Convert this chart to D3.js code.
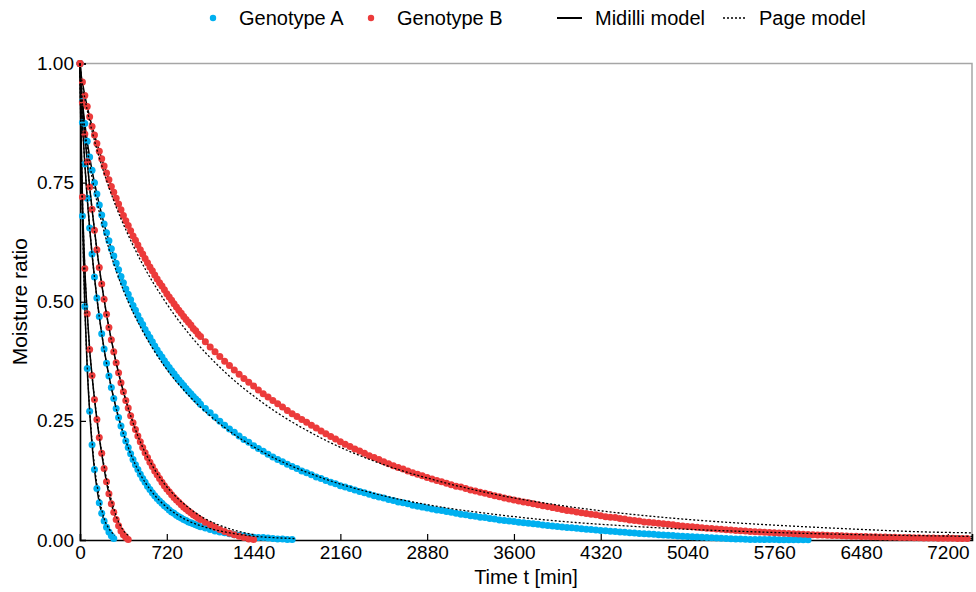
<!DOCTYPE html>
<html>
<head>
<meta charset="utf-8">
<script src="https://cdn.jsdelivr.net/npm/d3@7"></script>
<style>
  body { margin: 0; background: #fff; }
  text { font-family: "Liberation Sans", Arial, sans-serif; fill: #000; }
</style>
</head>
<body>
<svg id="root" width="976" height="592"></svg>
<script>
// time [min], moisture ratio
const fastA = [[0,1],[20,.68],[40,.49],[60,.36],[80,.27],[100,.2],[120,.148],[140,.108],[160,.078],[180,.056],[200,.04],[220,.027],[240,.017],[260,.009],[280,.003]];
const fastB = [[0,1],[20,.72],[40,.57],[60,.475],[80,.40],[100,.345],[120,.295],[140,.253],[160,.215],[180,.182],[200,.15],[220,.122],[240,.097],[260,.076],[280,.058],[300,.043],[320,.03],[340,.019],[360,.011],[380,.005],[400,.001]];

const midA = [[0,1],[20,.876],[40,.789],[60,.717],[80,.655],[100,.6],[120,.552],[140,.508],[160,.469],[180,.433],[200,.401],[220,.371],[240,.344],[260,.32],[280,.297],[300,.276],[320,.257],[340,.239],[360,.223],[380,.208],[400,.194],[420,.181],[440,.169],[460,.158],[480,.148],[500,.138],[520,.129],[540,.121],[560,.113],[580,.106],[600,.099],[620,.093],[640,.087],[660,.082],[680,.077],[700,.072],[720,.068],[740,.063],[760,.059],[780,.056],[800,.052],[820,.049],[840,.046],[860,.043],[880,.041],[900,.038],[920,.036],[940,.034],[960,.032],[980,.03],[1000,.028],[1040,.025],[1080,.022],[1120,.019],[1160,.017],[1200,.015],[1240,.013],[1280,.011],[1320,.01],[1360,.009],[1400,.007],[1440,.006],[1480,.005],[1520,.005],[1560,.004],[1600,.003],[1640,.002],[1680,.002],[1720,.001],[1760,.001]];
const midB = [[0,1],[20,.918],[40,.852],[60,.794],[80,.741],[100,.694],[120,.65],[140,.609],[160,.572],[180,.537],[200,.505],[220,.474],[240,.446],[260,.42],[280,.395],[300,.372],[320,.351],[340,.33],[360,.311],[380,.293],[400,.277],[420,.261],[440,.246],[460,.232],[480,.218],[500,.206],[520,.194],[540,.183],[560,.173],[580,.163],[600,.154],[620,.145],[640,.137],[660,.129],[680,.121],[700,.114],[720,.107],[740,.101],[760,.095],[780,.089],[800,.084],[820,.079],[840,.074],[860,.069],[880,.065],[900,.061],[920,.057],[940,.053],[960,.05],[980,.046],[1000,.043],[1040,.037],[1080,.032],[1120,.027],[1160,.022],[1200,.018],[1240,.014],[1280,.011],[1320,.008],[1360,.005],[1400,.002],[1440,.001]];

const slowA = [[0,1],[20,.92],[40,.874],[60,.837],[80,.804],[100,.776],[120,.75],[140,.726],[160,.703],[180,.682],[200,.663],[220,.645],[240,.628],[260,.611],[280,.596],[300,.581],[320,.567],[340,.553],[360,.54],[380,.527],[400,.516],[420,.504],[440,.492],[460,.482],[480,.471],[500,.461],[520,.452],[540,.442],[560,.433],[580,.425],[600,.416],[620,.407],[640,.399],[660,.391],[680,.384],[700,.376],[720,.369],[740,.362],[760,.355],[780,.349],[800,.342],[820,.336],[840,.33],[860,.324],[880,.318],[900,.312],[920,.307],[940,.301],[960,.296],[980,.291],[1000,.285],
  [1040,.276],[1080,.267],[1120,.258],[1160,.249],[1200,.241],[1240,.233],[1280,.226],[1320,.218],[1360,.211],[1400,.205],[1440,.198],[1480,.192],[1520,.186],[1560,.18],[1600,.174],[1640,.169],[1680,.164],[1720,.159],[1760,.154],[1800,.15],[1840,.145],[1880,.141],[1920,.137],[1960,.132],[2000,.129],[2040,.125],[2080,.121],[2120,.118],[2160,.114],[2200,.111],[2240,.108],[2280,.105],[2320,.102],[2360,.099],[2400,.096],[2440,.093],[2480,.09],[2520,.088],[2560,.085],[2600,.083],[2640,.08],[2680,.078],[2720,.076],[2760,.073],[2800,.071],[2840,.069],[2880,.067],[2920,.065],[2960,.063],[3000,.062],[3040,.06],[3080,.058],[3120,.056],[3160,.054],[3200,.053],[3240,.051],[3280,.05],[3320,.048],[3360,.047],[3400,.045],[3440,.044],[3480,.042],[3520,.041],[3560,.04],[3600,.039],[3640,.037],[3680,.036],[3720,.035],[3760,.034],[3800,.033],[3840,.0315],[3880,.0304],[3920,.0294],[3960,.0284],[4000,.0274],[4040,.0264],[4080,.0255],[4120,.0245],[4160,.0236],[4200,.0226],[4240,.0218],[4280,.021],[4320,.0201],[4360,.0193],[4400,.0185],[4440,.0177],[4480,.0169],[4520,.0162],[4560,.0154],[4600,.0146],[4640,.0139],[4680,.0132],[4720,.0126],[4760,.0119],[4800,.0112],[4840,.0105],[4880,.0099],[4920,.0092],[4960,.0086],[5000,.0079],[5040,.0073],[5080,.0068],[5120,.0062],[5160,.0057],[5200,.0051],[5240,.0046],[5280,.0041],[5320,.0035],[5360,.003],[5400,.0025],[5440,.0022],[5480,.0019],[5520,.0016],[5560,.0013],[5600,.001],[5640,.001],[5680,.0009],[5720,.0008],[5760,.0008],[5800,.0007],[5840,.0006],[5880,.0006],[5920,.0005],[5960,.0005],[6000,.0004],[6040,.0004]];
const slowB = [[0,1],[20,.961],[40,.933],[60,.91],[80,.888],[100,.868],[120,.85],[140,.832],[160,.816],[180,.8],[200,.785],[220,.77],[240,.756],[260,.742],[280,.73],[300,.717],[320,.705],[340,.693],[360,.681],[380,.67],[400,.66],[420,.649],[440,.638],[460,.629],[480,.619],[500,.609],[520,.6],[540,.591],[560,.582],[580,.573],[600,.565],[620,.556],[640,.548],[660,.54],[680,.533],[700,.525],[720,.517],[740,.51],[760,.503],[780,.496],[800,.489],[820,.482],[840,.476],[860,.469],[880,.463],[900,.457],[920,.451],[940,.444],[960,.439],[980,.432],[1000,.427],
  [1040,.416],[1080,.405],[1120,.395],[1160,.385],[1200,.375],[1240,.366],[1280,.357],[1320,.348],[1360,.339],[1400,.331],[1440,.323],[1480,.315],[1520,.307],[1560,.3],[1600,.293],[1640,.286],[1680,.279],[1720,.272],[1760,.265],[1800,.259],[1840,.253],[1880,.247],[1920,.241],[1960,.235],[2000,.229],[2040,.223],[2080,.217],[2120,.212],[2160,.206],[2200,.201],[2240,.196],[2280,.191],[2320,.187],[2360,.182],[2400,.177],[2440,.173],[2480,.169],[2520,.164],[2560,.16],[2600,.156],[2640,.152],[2680,.149],[2720,.145],[2760,.141],[2800,.138],[2840,.135],[2880,.131],[2920,.128],[2960,.125],[3000,.122],[3040,.119],[3080,.116],[3120,.113],[3160,.111],[3200,.108],[3240,.105],[3280,.103],[3320,.1],[3360,.098],[3400,.0955],[3440,.093],[3480,.091],[3520,.088],[3560,.086],[3600,.084],[3640,.082],[3680,.08],[3720,.078],[3760,.076],[3800,.074],[3840,.072],[3880,.07],[3920,.068],[3960,.066],[4000,.064],[4040,.062],[4080,.061],[4120,.059],[4160,.057],[4200,.0555],[4240,.054],[4280,.053],[4320,.051],[4360,.049],[4400,.048],[4440,.047],[4480,.045],[4520,.044],[4560,.042],[4600,.041],[4640,.04],[4680,.038],[4720,.037],[4760,.036],[4800,.035],[4840,.034],[4880,.033],[4920,.032],[4960,.0305],[5000,.0295],[5040,.0285],[5080,.0276],[5120,.0266],[5160,.0257],[5200,.0248],[5240,.024],[5280,.0232],[5320,.0224],[5360,.0216],[5400,.0208],[5440,.0201],[5480,.0194],[5520,.0187],[5560,.018],[5600,.0174],[5640,.0168],[5680,.0162],[5720,.0156],[5760,.015],[5800,.0145],[5840,.014],[5880,.0135],[5920,.013],[5960,.0125],[6000,.012],[6040,.0116],[6080,.0111],[6120,.0107],[6160,.0103],[6200,.0099],[6240,.0095],[6280,.0092],[6320,.0088],[6360,.0085],[6400,.0081],[6440,.0078],[6480,.0075],[6520,.0072],[6560,.0069],[6600,.0066],[6640,.0064],[6680,.0061],[6720,.0059],[6760,.0056],[6800,.0054],[6840,.0052],[6880,.005],[6920,.0048],[6960,.0046],[7000,.0044],[7040,.0042],[7080,.0041],[7120,.0039],[7160,.0038],[7200,.0036],[7240,.0035],[7280,.0034],[7320,.0032],[7360,.0031]];

// fitted model curves
const midilliFastA = [[0,1],[10,.81],[20,.68],[40,.49],[60,.36],[80,.27],[100,.2],[130,.127],[160,.078],[200,.04],[240,.017],[290,0]];
const midilliFastB = [[0,1],[10,.84],[20,.72],[40,.57],[60,.475],[80,.4],[100,.345],[130,.274],[160,.215],[200,.15],[240,.097],[280,.058],[320,.03],[360,.011],[400,.001]];
const midilliMidA = [[0,1],[10,.93],[20,.876],[40,.789],[60,.717],[80,.655],[100,.6],[140,.508],[180,.433],[220,.371],[260,.32],[300,.276],[360,.223],[420,.181],[500,.138],[600,.099],[700,.072],[800,.052],[900,.038],[1000,.028],[1200,.015],[1400,.007],[1600,.003],[1780,0]];
const midilliMidB = [[0,1],[10,.955],[20,.918],[40,.852],[60,.794],[80,.741],[100,.694],[140,.609],[180,.537],[220,.474],[260,.42],[300,.372],[360,.311],[420,.261],[500,.206],[600,.154],[700,.114],[800,.084],[900,.061],[1000,.043],[1100,.029],[1200,.018],[1300,.009],[1400,.002],[1450,0]];
const midilliSlowA = [[0,1],[10,.95],[20,.92],[40,.874],[80,.804],[120,.75],[200,.663],[300,.581],[400,.516],[500,.461],[700,.376],[900,.312],[1200,.241],[1500,.189],[2000,.129],[2500,.089],[3000,.062],[3500,.041],[4000,.027],[4500,.016],[5000,.008],[5500,.002],[6000,0]];
const midilliSlowB = [[0,1],[10,.975],[20,.961],[40,.933],[80,.888],[120,.85],[200,.785],[300,.717],[400,.66],[500,.609],[700,.525],[900,.457],[1200,.375],[1500,.311],[2000,.229],[2500,.167],[3000,.122],[3500,.09],[4000,.064],[4500,.044],[5000,.0295],[5500,.019],[6000,.012],[6500,.0073],[7000,.0044],[7400,.003]];

const pageFastA = [[0,1],[10,.8],[20,.68],[40,.49],[60,.365],[80,.275],[100,.207],[130,.135],[160,.089],[200,.045],[240,.024],[290,.01]];
const pageFastB = [[0,1],[10,.84],[20,.72],[40,.57],[60,.475],[80,.4],[100,.345],[130,.276],[160,.218],[200,.155],[240,.105],[280,.066],[320,.038],[360,.02],[400,.01]];
const pageMidA = [[0,1],[10,.93],[20,.876],[40,.789],[60,.717],[80,.655],[100,.6],[140,.508],[180,.433],[220,.371],[260,.32],[300,.276],[360,.223],[420,.181],[500,.138],[600,.1],[700,.073],[800,.054],[900,.04],[1000,.03],[1200,.017],[1400,.009],[1600,.005],[1780,.003]];
const pageMidB = [[0,1],[10,.955],[20,.918],[40,.852],[60,.794],[80,.741],[100,.694],[140,.609],[180,.537],[220,.474],[260,.42],[300,.372],[360,.311],[420,.261],[500,.206],[600,.156],[700,.118],[800,.09],[900,.068],[1000,.05],[1100,.037],[1200,.027],[1300,.019],[1450,.011]];
const pageSlowA = [[0,1],[10,.943],[20,.911],[40,.862],[60,.824],[100,.761],[150,.699],[200,.647],[300,.565],[400,.5],[500,.448],[700,.365],[900,.304],[1200,.236],[1500,.187],[2000,.131],[2500,.094],[3000,.069],[3500,.052],[4000,.039],[4500,.03],[5000,.023],[5500,.018],[6000,.014],[6500,.011],[7000,.009],[7400,.0075]];
const pageSlowB = [[0,1],[10,.974],[20,.957],[40,.927],[60,.902],[100,.858],[150,.811],[200,.77],[300,.699],[400,.64],[500,.588],[700,.503],[900,.434],[1200,.353],[1500,.291],[2000,.214],[2500,.16],[3000,.122],[3500,.093],[4000,.072],[4500,.056],[5000,.044],[5500,.035],[6000,.028],[6500,.022],[7000,.017],[7400,.015]];

const xTicks = [0, 720, 1440, 2160, 2880, 3600, 4320, 5040, 5760, 6480, 7200];
const yTicks = [0, 0.25, 0.5, 0.75, 1];

const colors = { A: "#00b0f0", B: "#ec3b3b" };

const main = () => {
    const svg = d3.select("#root");

    const plot = { left: 80, right: 972, top: 63.5, bottom: 540 };

    const x = d3.scaleLinear().domain([0, 7400]).range([plot.left, plot.right]);
    const y = d3.scaleLinear().domain([0, 1]).range([plot.bottom, plot.top]);

    // grey top / right frame
    svg.append("path")
        .attr("d", `M${plot.left},${plot.top}H${plot.right}V${plot.bottom}`)
        .attr("fill", "none")
        .attr("stroke", "#a6a6a6")
        .attr("stroke-width", 1.5);

    const xAxis = d3.axisBottom(x).tickValues(xTicks).tickSize(-6).tickPadding(6).tickFormat(d3.format("d"));
    const yAxis = d3.axisLeft(y).tickValues(yTicks).tickSize(-6).tickPadding(6).tickFormat(d3.format(".2f"));

    const styleAxis = (g) => {
        g.select(".domain").attr("stroke", "#000").attr("stroke-width", 1.6);
        g.selectAll(".tick line").attr("stroke", "#000").attr("stroke-width", 1.2);
        g.selectAll("text").attr("font-size", 19).attr("fill", "#000")
            .attr("font-family", '"Liberation Sans", Arial, sans-serif');
    };

    svg.append("g")
        .attr("transform", `translate(0, ${plot.bottom})`)
        .call(xAxis)
        .call(styleAxis);

    svg.append("g")
        .attr("transform", `translate(${plot.left}, 0)`)
        .call(yAxis)
        .call(styleAxis);

    const series = [
        { g: "A", pts: fastA, mid: midilliFastA, page: pageFastA },
        { g: "A", pts: midA, mid: midilliMidA, page: pageMidA },
        { g: "A", pts: slowA, mid: midilliSlowA, page: pageSlowA },
        { g: "B", pts: fastB, mid: midilliFastB, page: pageFastB },
        { g: "B", pts: midB, mid: midilliMidB, page: pageMidB },
        { g: "B", pts: slowB, mid: midilliSlowB, page: pageSlowB },
    ];

    const line = d3.line()
        .x((d) => x(d[0]))
        .y((d) => y(d[1]))
        .curve(d3.curveMonotoneX);

    // Midilli model (solid) under the points
    svg.append("g")
        .selectAll("path")
        .data(series)
        .join("path")
        .attr("d", (s) => line(s.mid))
        .attr("fill", "none")
        .attr("stroke", "#000")
        .attr("stroke-width", 1.5);

    // measured points
    series.forEach((s) => {
        svg.append("g")
            .selectAll("circle")
            .data(s.pts)
            .join("circle")
            .attr("cx", (d) => x(d[0]))
            .attr("cy", (d) => y(d[1]))
            .attr("r", 3.5)
            .attr("fill", colors[s.g]);
    });

    // Page model (dotted)
    svg.append("g")
        .selectAll("path")
        .data(series)
        .join("path")
        .attr("d", (s) => line(s.page))
        .attr("fill", "none")
        .attr("stroke", "#000")
        .attr("stroke-width", 1.3)
        .attr("stroke-dasharray", "2,2");

    // axis titles
    svg.append("text")
        .attr("x", (plot.left + plot.right) / 2)
        .attr("y", 584)
        .attr("text-anchor", "middle")
        .attr("font-size", 20)
        .text("Time t [min]");

    svg.append("text")
        .attr("transform", `translate(27, ${(plot.top + plot.bottom) / 2}) rotate(-90)`)
        .attr("text-anchor", "middle")
        .attr("font-size", 21)
        .text("Moisture ratio");

    // legend
    const legend = svg.append("g").attr("font-size", 20);
    const ly = 18;
    [["A", 213, "Genotype A"], ["B", 371, "Genotype B"]].forEach(([g, lx, label]) => {
        legend.append("circle").attr("cx", lx).attr("cy", ly).attr("r", 3.2).attr("fill", colors[g]);
        legend.append("text").attr("x", lx + 26).attr("y", ly + 7).text(label);
    });
    legend.append("line")
        .attr("x1", 557).attr("x2", 582).attr("y1", ly).attr("y2", ly)
        .attr("stroke", "#000").attr("stroke-width", 2);
    legend.append("text").attr("x", 595).attr("y", ly + 7).text("Midilli model");
    legend.append("line")
        .attr("x1", 723).attr("x2", 745).attr("y1", ly).attr("y2", ly)
        .attr("stroke", "#000").attr("stroke-width", 1.5).attr("stroke-dasharray", "2,2");
    legend.append("text").attr("x", 759).attr("y", ly + 7).text("Page model");
};

main();
</script>
</body>
</html>
